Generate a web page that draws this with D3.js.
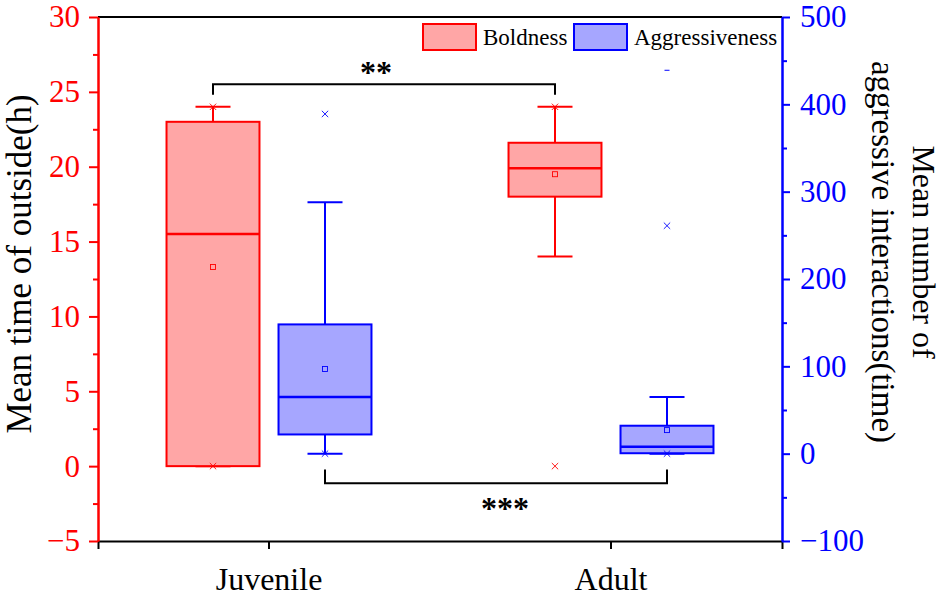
<!DOCTYPE html>
<html>
<head>
<meta charset="utf-8">
<script src="https://cdn.jsdelivr.net/npm/d3@7"></script>
<style>
  body { margin: 0; background: #fff; }
</style>
</head>
<body>
<div id="chart-area"></div>
<script>
// data
const categories = ["Juvenile", "Adult"]
const seriesNames = ["Boldness", "Aggressiveness"]

// Boldness, left axis (h)
const boldQ1 = [0, 18.0]
const boldMedian = [15.5, 19.9]
const boldQ3 = [23.0, 21.6]
const boldMean = [13.3, 19.5]
const boldWhiskerLow = [0, 14.0]
const boldWhiskerHigh = [24.0, 24.0]
const boldP1 = [0, 0]
const boldP99 = [24.0, 24.0]
const boldMax = [null, null]

// Aggressiveness, right axis (time)
const aggQ1 = [22, 0.5]
const aggMedian = [65, 8]
const aggQ3 = [148, 32]
const aggMean = [97, 27]
const aggWhiskerLow = [0, 0]
const aggWhiskerHigh = [288, 65]
const aggP1 = [0, 0]
const aggP99 = [389, 261]
const aggMax = [null, 439]

const leftTicks = [-5, 0, 5, 10, 15, 20, 25, 30]
const leftMinorTicks = [-2.5, 2.5, 7.5, 12.5, 17.5, 22.5, 27.5]
const rightTicks = [-100, 0, 100, 200, 300, 400, 500]
const rightMinorTicks = [-50, 50, 150, 250, 350, 450]

// significance brackets
const sigLabels = ["**", "***"]
const sigSeries = ["Boldness", "Aggressiveness"]
const sigLevel = [25.5, -34]
const sigEnd = [24.8, -18]

const WIDTH = 947
const HEIGHT = 597
const LEFT = 98, RIGHT = 782, TOP = 17, BOTTOM = 541
const FONT = "'Liberation Serif', Tinos, 'Times New Roman', Times, 'DejaVu Serif', 'Noto Serif', serif"

const colors = {
  Boldness: { stroke: "#ff0000", fill: "#ffa6a6" },
  Aggressiveness: { stroke: "#0000ff", fill: "#a6a6ff" }
}

const svg = d3.select("#chart-area")
  .append("svg")
  .attr("width", WIDTH)
  .attr("height", HEIGHT)
  .style("font-family", FONT)

const x = d3.scaleBand()
  .domain(categories)
  .range([LEFT, RIGHT])
  .padding(0)

const sub = d3.scaleBand()
  .domain(seriesNames)
  .range([-112, 112])

const yLeft = d3.scaleLinear().domain([-5, 30]).range([BOTTOM, TOP])
const yRight = d3.scaleLinear().domain([-100, 500]).range([BOTTOM, TOP])

const scaleFor = { Boldness: yLeft, Aggressiveness: yRight }

function buildStats(name, q1, med, q3, mean, wl, wh, p1, p99, mx) {
  return categories.map((c, i) => ({
    series: name, cat: c,
    q1: q1[i], median: med[i], q3: q3[i], mean: mean[i],
    wLow: wl[i], wHigh: wh[i], p1: p1[i], p99: p99[i], max: mx[i]
  }))
}

const boxes = [
  ...buildStats("Boldness", boldQ1, boldMedian, boldQ3, boldMean,
    boldWhiskerLow, boldWhiskerHigh, boldP1, boldP99, boldMax),
  ...buildStats("Aggressiveness", aggQ1, aggMedian, aggQ3, aggMean,
    aggWhiskerLow, aggWhiskerHigh, aggP1, aggP99, aggMax)
]

const boxW = sub.bandwidth() * 0.83
const capW = 35
const cx = d => x(d.cat) + x.bandwidth() / 2 + sub(d.series) + sub.bandwidth() / 2

// boxes
const g = svg.append("g")
boxes.forEach(d => {
  const y = scaleFor[d.series]
  const c = colors[d.series]
  const xc = cx(d)
  const bg = g.append("g")

  // whiskers
  bg.append("line")
    .attr("x1", xc).attr("x2", xc)
    .attr("y1", y(d.q3)).attr("y2", y(d.wHigh))
    .attr("stroke", c.stroke).attr("stroke-width", 2)
  bg.append("line")
    .attr("x1", xc).attr("x2", xc)
    .attr("y1", y(d.q1)).attr("y2", y(d.wLow))
    .attr("stroke", c.stroke).attr("stroke-width", 2)
  ;[d.wHigh, d.wLow].forEach(v => {
    bg.append("line")
      .attr("x1", xc - capW / 2).attr("x2", xc + capW / 2)
      .attr("y1", y(v)).attr("y2", y(v))
      .attr("stroke", c.stroke).attr("stroke-width", 2)
  })

  bg.append("rect")
    .attr("x", xc - boxW / 2)
    .attr("y", y(d.q3))
    .attr("width", boxW)
    .attr("height", y(d.q1) - y(d.q3))
    .attr("fill", c.fill)
    .attr("stroke", c.stroke)
    .attr("stroke-width", 2)

  bg.append("line")
    .attr("x1", xc - boxW / 2).attr("x2", xc + boxW / 2)
    .attr("y1", y(d.median)).attr("y2", y(d.median))
    .attr("stroke", c.stroke).attr("stroke-width", 2.5)

  // mean
  bg.append("rect")
    .attr("x", xc - 2.5).attr("y", y(d.mean) - 2.5)
    .attr("width", 5).attr("height", 5)
    .attr("fill", "none").attr("stroke", c.stroke).attr("stroke-width", 0.9)

  // 1% / 99% markers
  ;[d.p1, d.p99].forEach(v => {
    bg.append("path")
      .attr("d", d3.symbol(d3.symbolTimes, 28)())
      .attr("transform", `translate(${xc},${y(v)})`)
      .attr("fill", "none").attr("stroke", c.stroke).attr("stroke-width", 0.9)
  })

  // max marker
  if (d.max != null) {
    bg.append("line")
      .attr("x1", xc - 2.5).attr("x2", xc + 2.5)
      .attr("y1", y(d.max)).attr("y2", y(d.max))
      .attr("stroke", c.stroke).attr("stroke-width", 1)
  }
})

// significance brackets
sigLabels.forEach((lab, i) => {
  const y = scaleFor[sigSeries[i]]
  const xs = categories.map(c => cx({ cat: c, series: sigSeries[i] }))
  const yl = y(sigLevel[i]), ye = y(sigEnd[i])
  svg.append("path")
    .attr("d", `M${xs[0]},${ye}V${yl}H${xs[1]}V${ye}`)
    .attr("fill", "none")
    .attr("stroke", "#000")
    .attr("stroke-width", 2)
  const above = sigLevel[i] > sigEnd[i]
  svg.append("text")
    .attr("x", (xs[0] + xs[1]) / 2 + (above ? -8 : 9))
    .attr("y", above ? yl - 1 : yl + 36)
    .attr("text-anchor", "middle")
    .style("font-family", FONT)
    .attr("font-size", "32px")
    .attr("font-weight", "bold")
    .text(lab)
})

// frame: top line
svg.append("line")
  .attr("x1", LEFT).attr("x2", RIGHT)
  .attr("y1", TOP).attr("y2", TOP)
  .attr("stroke", "#000").attr("stroke-width", 2)

// bottom axis
const xAxis = svg.append("g")
  .attr("transform", `translate(0, ${BOTTOM})`)
  .call(d3.axisBottom(x).tickSizeOuter(0).tickSize(8))
xAxis.style("font-family", FONT)
xAxis.select(".domain").attr("stroke", "#000").attr("stroke-width", 2)
xAxis.selectAll(".tick line").attr("stroke", "#000").attr("stroke-width", 2)
xAxis.selectAll(".tick text")
  .attr("y", 49).attr("dy", 0)
  .attr("font-size", "32px")
  .style("font-family", FONT)
  .attr("fill", "#000")

// y axes
function styleAxis(sel, color, fontSize) {
  sel.style("font-family", FONT)
  sel.select(".domain").attr("stroke", color).attr("stroke-width", 2)
  sel.selectAll(".tick line").attr("stroke", color).attr("stroke-width", 2)
  sel.selectAll(".tick text")
    .attr("fill", color)
    .attr("font-size", fontSize)
    .style("font-family", FONT)
}

const yAxisL = svg.append("g")
  .attr("transform", `translate(${LEFT}, 0)`)
  .call(d3.axisLeft(yLeft).tickValues(leftTicks).tickSize(9).tickPadding(9).tickSizeOuter(0))
styleAxis(yAxisL, "#ff0000", "31px")
const yAxisLMinor = svg.append("g")
  .attr("transform", `translate(${LEFT}, 0)`)
  .call(d3.axisLeft(yLeft).tickValues(leftMinorTicks).tickSize(5).tickFormat("").tickSizeOuter(0))
styleAxis(yAxisLMinor, "#ff0000", "31px")

const yAxisR = svg.append("g")
  .attr("transform", `translate(${RIGHT}, 0)`)
  .call(d3.axisRight(yRight).tickValues(rightTicks).tickSize(8).tickPadding(10).tickSizeOuter(0))
styleAxis(yAxisR, "#0000ff", "31px")
const yAxisRMinor = svg.append("g")
  .attr("transform", `translate(${RIGHT}, 0)`)
  .call(d3.axisRight(yRight).tickValues(rightMinorTicks).tickSize(5).tickFormat("").tickSizeOuter(0))
styleAxis(yAxisRMinor, "#0000ff", "31px")

// axis titles
svg.append("text")
  .attr("transform", `translate(31, 264) rotate(-90)`)
  .attr("text-anchor", "middle")
  .style("font-family", FONT)
  .attr("font-size", "35px")
  .text("Mean time of outside(h)")

svg.append("text")
  .attr("transform", `translate(913, 252) rotate(90)`)
  .attr("text-anchor", "middle")
  .style("font-family", FONT)
  .attr("font-size", "32px")
  .text("Mean number of")
svg.append("text")
  .attr("transform", `translate(872, 252) rotate(90)`)
  .attr("text-anchor", "middle")
  .style("font-family", FONT)
  .attr("font-size", "33px")
  .text("aggressive interactions(time)")

// legend
const legend = svg.append("g")
const legendX = [423, 574]
seriesNames.forEach((s, i) => {
  legend.append("rect")
    .attr("x", legendX[i]).attr("y", 24)
    .attr("width", 53).attr("height", 26)
    .attr("fill", colors[s].fill)
    .attr("stroke", colors[s].stroke)
    .attr("stroke-width", 2)
  legend.append("text")
    .attr("x", legendX[i] + 60).attr("y", 45)
    .style("font-family", FONT)
    .attr("font-size", "23px")
    .text(s)
})
</script>
</body>
</html>
